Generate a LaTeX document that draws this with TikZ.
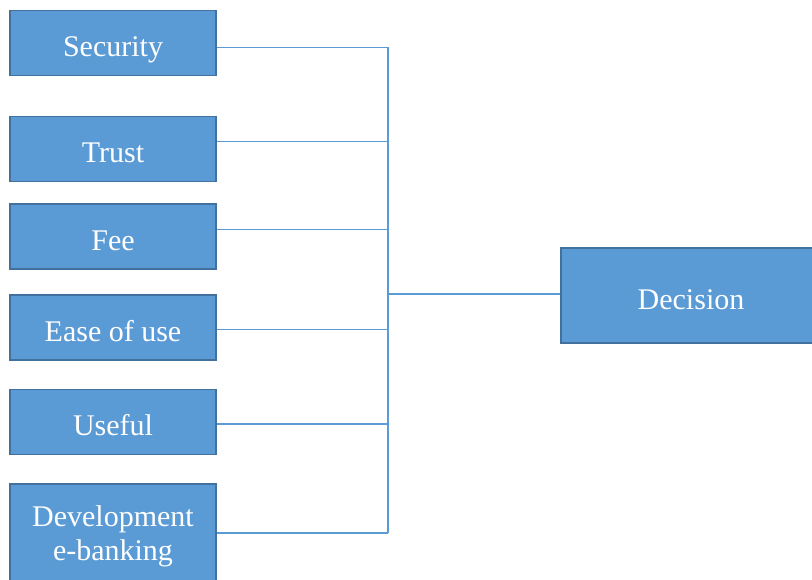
\documentclass[tikz,border=0pt]{standalone}
\usepackage{fontspec}
\setmainfont{Liberation Serif}
\usetikzlibrary{positioning}
\definecolor{boxfill}{HTML}{5B9BD5}
\definecolor{boxline}{HTML}{41719C}
\definecolor{linkblue}{HTML}{5B9BD5}
\tikzset{
  factor/.style={rectangle,draw=boxline,fill=boxfill,line width=1.1pt,minimum width=154.5pt,minimum height=48.75pt,inner sep=0pt,align=center,text=white,text height=20.5pt,text depth=0pt,font=\fontsize{22.5}{25}\selectfont},
  decision/.style={factor,minimum width=195pt,minimum height=71.25pt},
  link/.style={draw=linkblue,line width=.8pt},
}
\begin{document}
\begin{tikzpicture}[x=.75pt,y=-.75pt]
  \useasboundingbox (0,0) rectangle (812,580);
  \node[factor] (sec) at (113,43) {Security};
  \node[factor] (tru) at (113,149) {Trust};
  \node[factor] (fee) at (113,236.5) {Fee};
  \node[factor] (eas) at (113,327.5) {Ease of use};
  \node[factor] (use) at (113,422) {Useful};
  \node[factor,minimum height=75pt,text height=39pt] (dev) at (113,534) {Development\\e-banking};
  \node[decision] (dec) at (691,295.5) {Decision};
  % bus
  \coordinate (b1) at (388,47.5);
  \coordinate (b2) at (388,141.5);
  \coordinate (b3) at (388,229.5);
  \coordinate (b4) at (388,329.5);
  \coordinate (b5) at (388,424);
  \coordinate (b6) at (388,533);
  \coordinate (bd) at (388,294);
  \draw[link] (b1) -- (b6);
  \foreach \n/\b in {sec/b1,tru/b2,fee/b3,eas/b4,use/b5,dev/b6}
    \draw[link] (\n.east |- \b) -- (\b);
  \draw[link] (bd) -- (dec.west |- bd);
\end{tikzpicture}
\end{document}
